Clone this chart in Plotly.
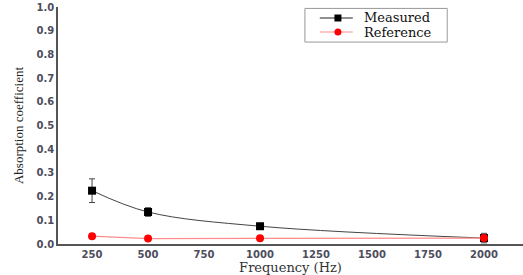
import plotly.graph_objects as go

freq = [250, 500, 1000, 2000]
measured = [0.225, 0.135, 0.075, 0.025]
measured_err = [0.05, 0.018, 0.004, 0.02]
reference = [0.033, 0.023, 0.024, 0.025]

x_ticks = [250, 500, 750, 1000, 1250, 1500, 1750, 2000]
y_ticks = [0.0, 0.1, 0.2, 0.3, 0.4, 0.5, 0.6, 0.7, 0.8, 0.9, 1.0]
series_names = ["Measured", "Reference"]

fig = go.Figure()
fig.add_trace(go.Scatter(
    x=freq, y=measured, name=series_names[0], showlegend=False,
    mode="lines+markers", line=dict(color="#444444", width=1, shape="spline"),
    marker=dict(symbol="square", size=8, color="black"),
    error_y=dict(type="data", array=measured_err, color="#444444", thickness=1, width=3),
))
fig.add_trace(go.Scatter(
    x=freq, y=reference, name=series_names[1], showlegend=False,
    mode="lines+markers", line=dict(color="#ff8c8c", width=1.2),
    marker=dict(symbol="circle", size=8, color="red"),
))

# manual legend (paper coordinates)
lx0, lx1, ly0, ly1 = 0.531, 0.837, 0.852, 0.994
rows = [0.9536, 0.8945]
line_colors = ["#222222", "#ff8c8c"]
marker_colors = ["black", "red"]
shapes = [dict(type="rect", xref="paper", yref="paper", x0=lx0, x1=lx1, y0=ly0, y1=ly1,
               line=dict(color="#999999", width=1), fillcolor="white", layer="above")]
annotations = []
for i, ry in enumerate(rows):
    shapes.append(dict(type="line", xref="paper", yref="paper", x0=0.563, x1=0.634, y0=ry, y1=ry,
                       line=dict(color=line_colors[i], width=1.2), layer="above"))
    shapes.append(dict(type="rect" if i == 0 else "circle", xref="paper", yref="paper",
                       xsizemode="pixel", ysizemode="pixel", xanchor=0.602, yanchor=ry,
                       x0=-3.5, x1=3.5, y0=-3.5, y1=3.5,
                       fillcolor=marker_colors[i], line=dict(width=0), layer="above"))
    annotations.append(dict(xref="paper", yref="paper", x=0.654, y=ry, xanchor="left", yanchor="middle",
                            text=series_names[i], showarrow=False,
                            font=dict(family="DejaVu Serif", size=13, color="#111111")))

tickfont = dict(family="DejaVu Sans", size=10, color="#4d4d5c", weight="bold")
fig.update_layout(
    width=523, height=275,
    margin=dict(l=58, r=0, t=7, b=31),
    paper_bgcolor="white", plot_bgcolor="white",
    showlegend=False,
    shapes=shapes, annotations=annotations,
    xaxis=dict(
        range=[98, 2174], tickvals=x_ticks, ticktext=[str(v) for v in x_ticks],
        showgrid=False, zeroline=False, showline=True, linecolor="#555555", linewidth=1.5,
        ticks="", tickfont=tickfont, automargin=False,
        title=dict(text="Frequency (Hz)", font=dict(family="DejaVu Serif", size=13, color="#333333"), standoff=1),
    ),
    yaxis=dict(
        range=[0, 1.0], tickvals=y_ticks, ticktext=[f"{v:.1f}" for v in y_ticks],
        showgrid=False, zeroline=False, showline=True, linecolor="#555555", linewidth=1.5,
        ticks="", tickfont=tickfont, automargin=False,
        title=dict(text="Absorption coefficient", font=dict(family="Liberation Serif", size=13, color="#222222"), standoff=10),
    ),
)

fig.write_html("out.html", config={"displayModeBar": False},
               post_script="document.body.style.margin='0';document.body.style.overflow='hidden';")
